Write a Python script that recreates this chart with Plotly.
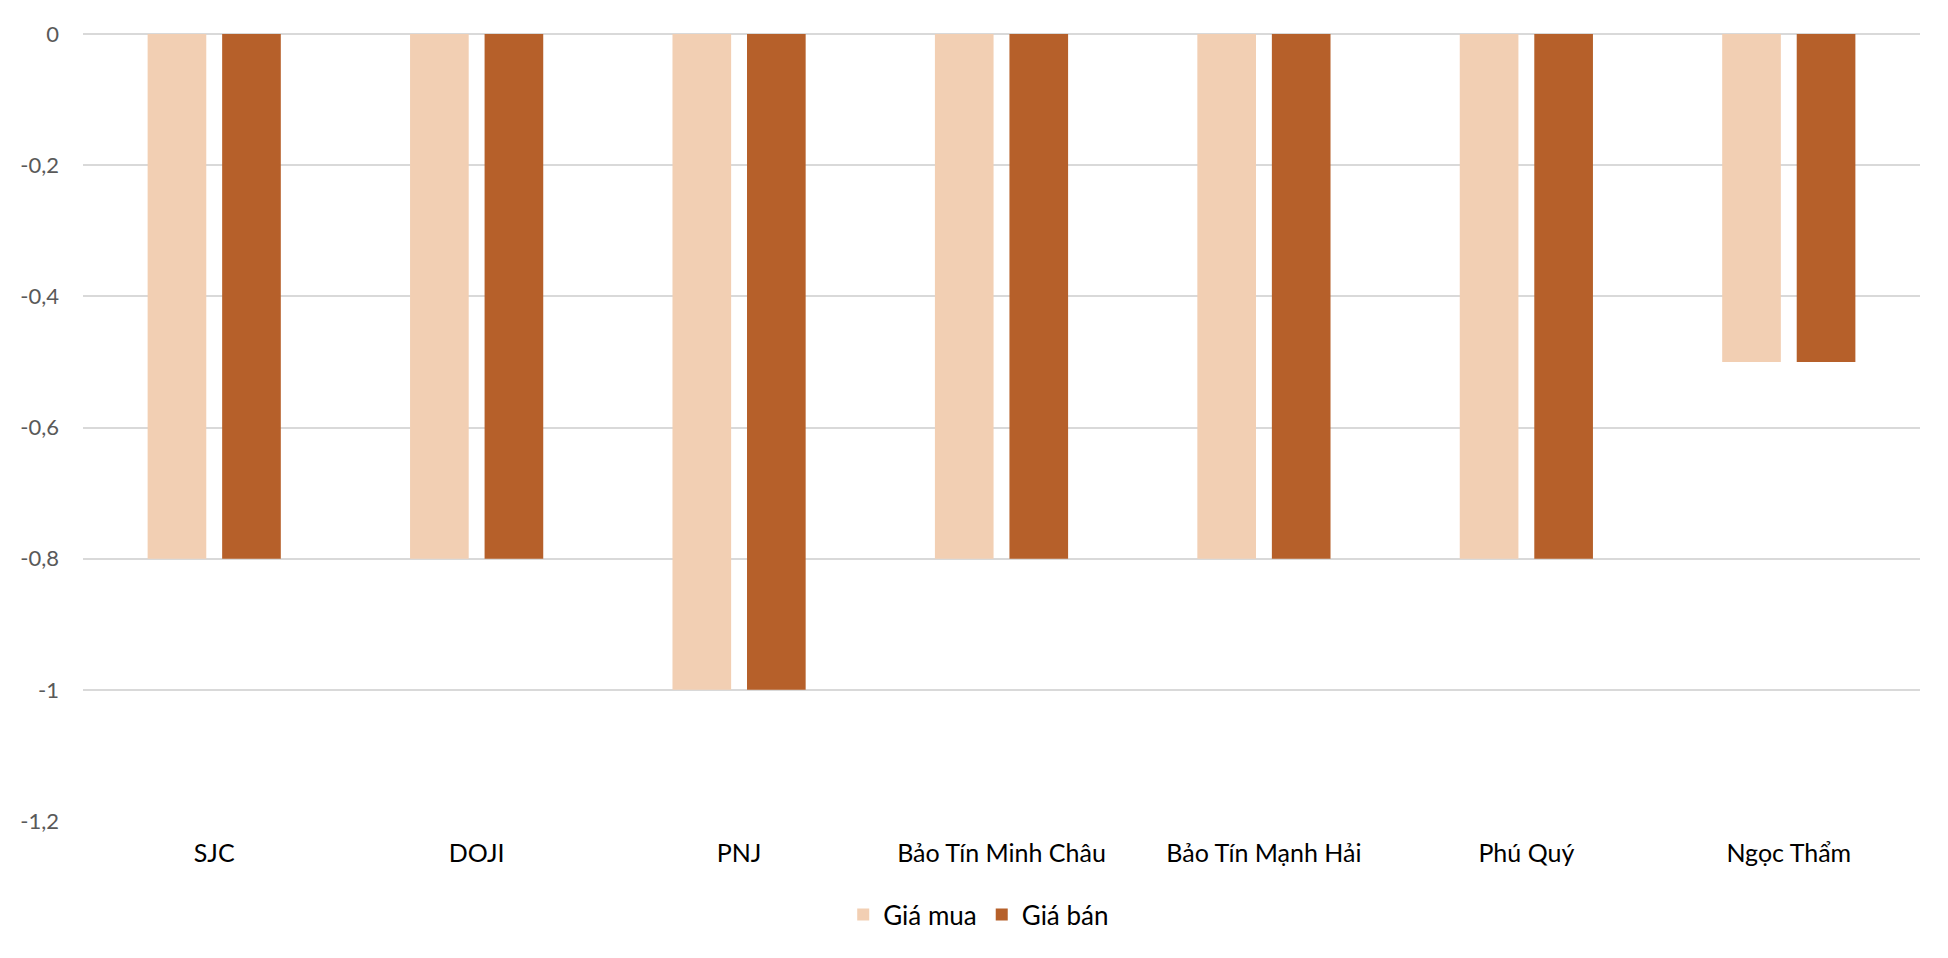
import plotly.graph_objects as go

categories = ["SJC", "DOJI", "PNJ", "Bảo Tín Minh Châu", "Bảo Tín Mạnh Hải", "Phú Quý", "Ngọc Thẩm"]
gia_mua = [-0.8, -0.8, -1.0, -0.8, -0.8, -0.8, -0.5]
gia_ban = [-0.8, -0.8, -1.0, -0.8, -0.8, -0.8, -0.5]
tick_values = [0, -0.2, -0.4, -0.6, -0.8, -1.0, -1.2]
tick_labels = ["0", "-0,2", "-0,4", "-0,6", "-0,8", "-1", "-1,2"]

FONT = "Lato"

fig = go.Figure()
fig.add_trace(go.Bar(name="Giá mua", x=categories, y=gia_mua, marker_color="#F2CFB3",
                     marker_line_width=0))
fig.add_trace(go.Bar(name="Giá bán", x=categories, y=gia_ban, marker_color="#B6602A",
                     marker_line_width=0))

fig.update_layout(
    width=1932, height=942,
    margin=dict(l=64, r=20, t=19, b=123),
    paper_bgcolor="white", plot_bgcolor="white",
    barmode="group", bargap=0.432, bargroupgap=0.213,
    font=dict(family=FONT, color="black"),
    legend=dict(orientation="h", x=0.4876, xanchor="center", y=-0.119, yanchor="middle",
                font=dict(size=26, color="black"), itemwidth=30,
                traceorder="normal"),
    xaxis=dict(showgrid=False, showline=False, ticks="", zeroline=False,
               tickfont=dict(size=25, color="black"), ticklabelstandoff=15),
    yaxis=dict(range=[-1.2, 0], tickvals=tick_values, ticktext=tick_labels,
               showgrid=True, gridcolor="#D9D9D9", gridwidth=1.5,
               zeroline=True, zerolinecolor="#D9D9D9", zerolinewidth=1.5,
               showline=False, ticks="", ticklabelstandoff=23,
               tickfont=dict(size=22, color="#595959")),
)

fig.write_html("out.html")
